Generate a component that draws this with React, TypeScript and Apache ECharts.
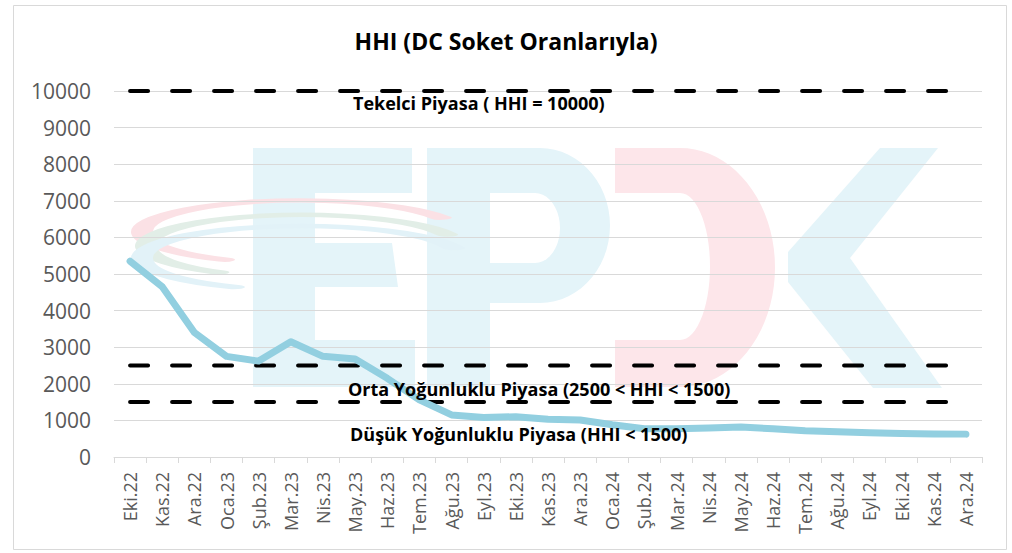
import React, { useEffect, useRef } from "react";
import * as echarts from "echarts";

const categories = [
  "Eki.22", "Kas.22", "Ara.22", "Oca.23", "Şub.23", "Mar.23", "Nis.23", "May.23", "Haz.23",
  "Tem.23", "Ağu.23", "Eyl.23", "Eki.23", "Kas.23", "Ara.23", "Oca.24", "Şub.24", "Mar.24",
  "Nis.24", "May.24", "Haz.24", "Tem.24", "Ağu.24", "Eyl.24", "Eki.24", "Kas.24", "Ara.24",
];

const hhiValues = [
  5350, 4650, 3400, 2750, 2620, 3150, 2750, 2680, 2150,
  1560, 1150, 1080, 1100, 1030, 1010, 880, 770, 770,
  790, 820, 770, 720, 690, 660, 640, 630, 625,
];

const monopolyLevel = 10000;
const mediumLevel = 2500;
const lowLevel = 1500;

const yTicks = { min: 0, max: 10000, interval: 1000 };

const monopolyText = "Tekelci Piyasa ( HHI = 10000)";
const mediumText = "Orta Yoğunluklu Piyasa (2500 < HHI < 1500)";
const lowText = "Düşük Yoğunluklu Piyasa (HHI < 1500)";
const titleText = "HHI (DC Soket Oranlarıyla)";

function ellipsePts(cx: number, cy: number, rx: number, ry: number, a0: number, a1: number, n: number) {
  const pts: number[][] = [];
  for (let i = 0; i <= n; i++) {
    const a = a0 + ((a1 - a0) * i) / n;
    pts.push([cx + rx * Math.cos(a), cy + ry * Math.sin(a)]);
  }
  return pts;
}

function watermark(): any[] {
  const blue = "#e4f4f9";
  const pink = "#fde6ea";
  const els: any[] = [];
  // E
  els.push({
    type: "polygon",
    z: -10,
    shape: {
      points: [
        [253, 148], [412, 148], [412, 193], [315, 193], [315, 243], [392, 243], [398, 287],
        [315, 287], [315, 340], [415, 340], [415, 387], [253, 387],
      ],
    },
    style: { fill: blue },
  });
  // P
  const pOuter = ellipsePts(540, 225.5, 70, 77.5, -Math.PI / 2, Math.PI / 2, 30);
  const pInner = ellipsePts(535, 228, 25, 35, Math.PI / 2, -Math.PI / 2, 20);
  els.push({
    type: "polygon",
    z: -10,
    shape: {
      points: [[427, 148], ...pOuter, [490, 303], [490, 387], [427, 387]],
    },
    style: { fill: blue },
  });
  els.push({
    type: "polygon",
    z: -9,
    shape: { points: [[490, 263], ...pInner, [490, 193]] },
    style: { fill: "#ffffff" },
  });
  // D
  const dOuter = ellipsePts(680, 267.5, 95, 119.5, -Math.PI / 2, Math.PI / 2, 40);
  const dInner = ellipsePts(680, 266.5, 30, 73.5, Math.PI / 2, -Math.PI / 2, 30);
  els.push({
    type: "polygon",
    z: -10,
    shape: { points: [[615, 148], ...dOuter, [615, 387], [615, 340], ...dInner, [615, 193]] },
    style: { fill: pink },
  });
  // K
  els.push({
    type: "polygon",
    z: -10,
    shape: {
      points: [[880, 148], [938, 148], [850, 258], [942, 388], [873, 388], [788, 282], [788, 252]],
    },
    style: { fill: blue },
  });
  // swooshes
  const arcs = [
    { cx: 300, cy: 232, r: 158, color: "#fbe1e5", s: 0.66, e: 1.85 },
    { cx: 302, cy: 246, r: 156, color: "#e2eee7", s: 0.68, e: 1.88 },
    { cx: 302, cy: 258, r: 160, color: "#e2f2f8", s: 0.64, e: 1.9 },
  ];
  arcs.forEach((a) => {
    els.push({
      type: "arc",
      z: -8,
      x: a.cx,
      y: a.cy,
      scaleY: 0.2,
      shape: { cx: 0, cy: 0, r: a.r, startAngle: a.s * Math.PI, endAngle: a.e * Math.PI, clockwise: true },
      style: { stroke: a.color, lineWidth: 22, fill: "none", lineCap: "round" },
    });
  });
  return els;
}

export default function App() {
  const ref = useRef<HTMLDivElement>(null);

  useEffect(() => {
    document.body.style.margin = "0";
    if (!ref.current) return;
    const chart = echarts.init(ref.current, undefined, { renderer: "svg" });
    const labelFont = { fontFamily: "Open Sans", fontWeight: "bold", fontSize: 18, fill: "#000" };
    const dash = {
      type: [18, 24] as any,
      color: "#000",
      width: 4,
      cap: "round",
    };
    chart.setOption({
      animation: false,
      backgroundColor: "#ffffff",
      title: {
        text: titleText,
        left: "center",
        top: 24,
        textStyle: { fontFamily: "Open Sans", fontWeight: "bold", fontSize: 23, color: "#000" },
      },
      grid: { left: 114, right: 30, top: 91, bottom: 96 },
      xAxis: {
        type: "category",
        data: categories,
        boundaryGap: true,
        axisLine: { lineStyle: { color: "#d9d9d9", width: 1 } },
        axisTick: { show: true, length: 6, lineStyle: { color: "#d9d9d9" } },
        axisLabel: {
          rotate: 90,
          interval: 0,
          margin: 15,
          color: "#595959",
          fontFamily: "Open Sans",
          fontSize: 18,
        },
      },
      yAxis: {
        type: "value",
        min: yTicks.min,
        max: yTicks.max,
        interval: yTicks.interval,
        axisLine: { show: false },
        axisTick: { show: false },
        splitLine: { lineStyle: { color: "#d9d9d9", width: 1 } },
        axisLabel: {
          margin: 23,
          color: "#595959",
          fontFamily: "Open Sans",
          fontSize: 21,
          formatter: (v: number) => String(v),
        },
      },
      series: [
        {
          type: "line",
          data: categories.map(() => monopolyLevel),
          showSymbol: false,
          lineStyle: dash,
          z: 3,
        },
        {
          type: "line",
          data: categories.map(() => mediumLevel),
          showSymbol: false,
          lineStyle: dash,
          z: 3,
        },
        {
          type: "line",
          data: categories.map(() => lowLevel),
          showSymbol: false,
          lineStyle: dash,
          z: 3,
        },
        {
          type: "line",
          data: hhiValues,
          showSymbol: false,
          lineStyle: { color: "#92cfe0", width: 7, cap: "round", join: "round" },
          z: 4,
        },
      ],
      graphic: [
        {
          type: "rect",
          z: -20,
          shape: { x: 13.5, y: 5.5, width: 993, height: 544 },
          style: { fill: "none", stroke: "#d9d9d9", lineWidth: 1 },
        },
        ...watermark(),
        {
          type: "text",
          z: 10,
          x: 353,
          y: 103,
          style: { ...labelFont, text: monopolyText, textVerticalAlign: "middle" },
        },
        {
          type: "text",
          z: 10,
          x: 348,
          y: 389,
          style: { ...labelFont, text: mediumText, textVerticalAlign: "middle" },
        },
        {
          type: "text",
          z: 10,
          x: 350,
          y: 434,
          style: { ...labelFont, text: lowText, textVerticalAlign: "middle" },
        },
      ],
    });
    return () => chart.dispose();
  }, []);

  return <div ref={ref} style={{ width: 1012, height: 553 }} />;
}
